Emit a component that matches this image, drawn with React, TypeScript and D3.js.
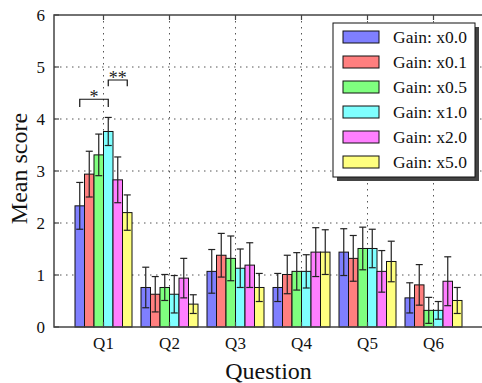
import * as d3 from "d3";

const questions = ["Q1", "Q2", "Q3", "Q4", "Q5", "Q6"];
const gains = ["Gain: x0.0", "Gain: x0.1", "Gain: x0.5", "Gain: x1.0", "Gain: x2.0", "Gain: x5.0"];
const COLORS = ["#7f7fff", "#ff7f7f", "#7fff7f", "#7fffff", "#ff7fff", "#ffff7f"];

// mean per gain, one value per question
const means = [
  [2.33, 0.76, 1.07, 0.76, 1.44, 0.56],
  [2.94, 0.63, 1.38, 1.01, 1.32, 0.81],
  [3.31, 0.76, 1.32, 1.07, 1.51, 0.32],
  [3.76, 0.63, 1.13, 1.07, 1.51, 0.32],
  [2.83, 0.94, 1.19, 1.44, 1.07, 0.88],
  [2.2, 0.44, 0.76, 1.44, 1.26, 0.51],
];
const errors = [
  [0.45, 0.39, 0.42, 0.27, 0.45, 0.29],
  [0.44, 0.34, 0.42, 0.37, 0.44, 0.39],
  [0.4, 0.25, 0.43, 0.36, 0.41, 0.25],
  [0.27, 0.36, 0.37, 0.32, 0.37, 0.17],
  [0.44, 0.38, 0.43, 0.47, 0.4, 0.47],
  [0.34, 0.18, 0.27, 0.43, 0.39, 0.25],
];
const yTicks = [0, 1, 2, 3, 4, 5, 6];

// significance brackets on Q1: [from gain, to gain, top, leg end, label]
const brackets: [number, number, number, number, string][] = [
  [0, 3, 4.38, 4.23, "*"],
  [3, 5, 4.75, 4.63, "**"],
];

const FONT = '"Liberation Serif", "Times New Roman", Tinos, "DejaVu Serif", serif';
const AXIS = "#444";

export default function App() {
  const width = 482;
  const height = 383;
  const x = d3.scaleLinear().domain([0.25, 6.75]).range([54, 483]);
  const y = d3.scaleLinear().domain([0, 6]).range([327, 15]);
  const inner = d3.scaleBand<number>().domain(d3.range(gains.length)).range([-28.5, 28.5]);
  const bw = inner.bandwidth();

  const cx = (q: number, g: number) => x(q + 1) + (inner(g) as number) + bw / 2;

  return (
    <svg
      width={width}
      height={height}
      style={{ position: "absolute", left: 0, top: 0, background: "#fff", fontFamily: FONT }}
    >
      {/* grid */}
      {yTicks.slice(1, -1).map((t) => (
        <line key={"gy" + t} x1={54} x2={483} y1={y(t)} y2={y(t)} stroke="#555" strokeWidth={1} strokeDasharray="1.5,4.5" />
      ))}
      {questions.map((q, i) => (
        <line key={"gx" + q} x1={x(i + 1)} x2={x(i + 1)} y1={15} y2={327} stroke="#555" strokeWidth={1} strokeDasharray="1.5,4.5" />
      ))}

      {/* bars */}
      {gains.map((g, gi) =>
        questions.map((q, qi) => (
          <rect
            key={g + q}
            x={cx(qi, gi) - bw / 2}
            y={y(means[gi][qi])}
            width={bw}
            height={y(0) - y(means[gi][qi])}
            fill={COLORS[gi]}
            stroke="#111"
            strokeWidth={1}
          />
        ))
      )}

      {/* error bars */}
      {gains.map((g, gi) =>
        questions.map((q, qi) => {
          const c = cx(qi, gi);
          const hi = y(means[gi][qi] + errors[gi][qi]);
          const lo = y(Math.max(0, means[gi][qi] - errors[gi][qi]));
          return (
            <g key={"e" + g + q} stroke="#222" strokeWidth={1.2}>
              <line x1={c} x2={c} y1={hi} y2={lo} />
              <line x1={c - 3.5} x2={c + 3.5} y1={hi} y2={hi} />
              <line x1={c - 3.5} x2={c + 3.5} y1={lo} y2={lo} />
            </g>
          );
        })
      )}

      {/* significance */}
      {brackets.map(([a, b, top, leg, label]) => {
        const x1 = cx(0, a);
        const x2 = cx(0, b);
        return (
          <g key={label}>
            <path
              d={`M${x1},${y(leg)}V${y(top)}H${x2}V${y(leg)}`}
              fill="none"
              stroke="#111"
              strokeWidth={1.2}
            />
            <text x={(x1 + x2) / 2} y={y(top) + 4} textAnchor="middle" style={{ fontFamily: FONT }} fontSize={18} fill="#222">
              {label}
            </text>
          </g>
        );
      })}

      {/* frame */}
      <rect x={54} y={15} width={429} height={312} fill="none" stroke={AXIS} strokeWidth={1.5} />
      {yTicks.map((t) => (
        <g key={"t" + t}>
          <line x1={54} x2={59} y1={y(t)} y2={y(t)} stroke={AXIS} strokeWidth={1.2} />
          <text x={45} y={y(t) + 5.5} textAnchor="end" style={{ fontFamily: FONT }} fontSize={17} fill="#111">
            {t}
          </text>
        </g>
      ))}
      {questions.map((q, i) => (
        <g key={"xt" + q}>
          <line x1={x(i + 1)} x2={x(i + 1)} y1={327} y2={322} stroke={AXIS} strokeWidth={1.2} />
          <line x1={x(i + 1)} x2={x(i + 1)} y1={15} y2={20} stroke={AXIS} strokeWidth={1.2} />
          <text x={x(i + 1)} y={349} textAnchor="middle" style={{ fontFamily: FONT }} fontSize={17} fill="#111">
            {q}
          </text>
        </g>
      ))}

      <text x={268.5} y={379} textAnchor="middle" style={{ fontFamily: FONT }} fontSize={24} fill="#111">
        Question
      </text>
      <text
        transform={`translate(27,168.5) rotate(-90)`}
        textAnchor="middle"
        style={{ fontFamily: FONT }}
        fontSize={24}
        fill="#111"
      >
        Mean score
      </text>

      {/* legend */}
      <rect x={337} y={27} width={142} height={154} fill="#444" />
      <rect x={333} y={23} width={142} height={154} fill="#fff" stroke="#111" strokeWidth={1} />
      {gains.map((g, i) => (
        <g key={"l" + g} transform={`translate(0,${37 + i * 25})`}>
          <rect x={343} y={-6} width={36} height={12} fill={COLORS[i]} stroke="#111" strokeWidth={1} />
          <text x={393} y={6} style={{ fontFamily: FONT }} fontSize={17.5} fill="#111">
            {g}
          </text>
        </g>
      ))}
    </svg>
  );
}
